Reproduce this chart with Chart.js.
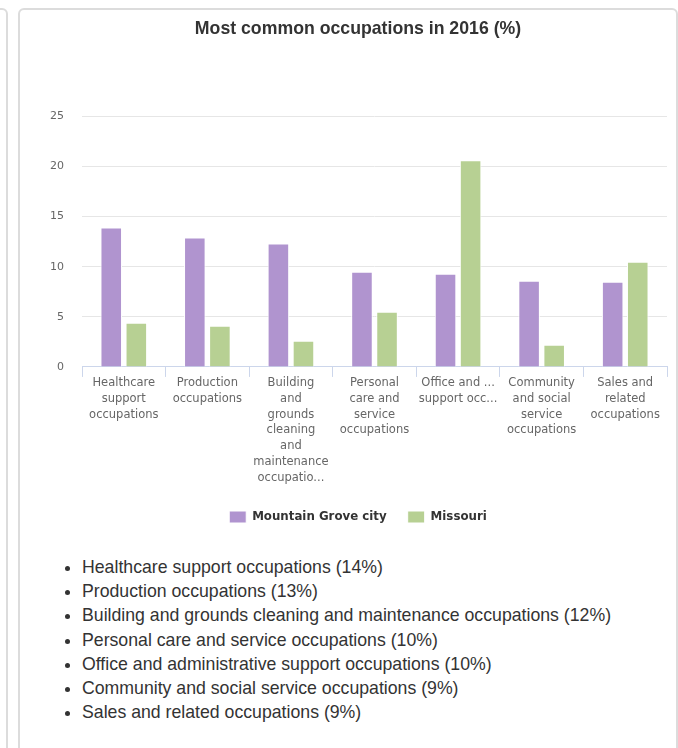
<!DOCTYPE html>
<html>
<head>
<meta charset="utf-8">
<script src="https://cdn.jsdelivr.net/npm/chart.js@4.4.1/dist/chart.umd.min.js"></script>
<style>
  html, body { margin: 0; padding: 0; background: #fff; overflow: hidden; width: 678px; height: 748px; }
  .side { position: absolute; left: -12px; top: 8px; width: 16px; height: 800px; border: 2px solid #dcdcdc; border-radius: 6px; }
  .panel { position: absolute; left: 18px; top: 8px; width: 656px; height: 800px; border: 2px solid #dcdcdc; border-radius: 6px; }
  #wrap { position: absolute; left: 20px; top: 10px; width: 658px; height: 523px; }
  ul.lst { position: absolute; left: 82px; top: 555px; margin: 0; padding: 0; list-style: disc; font-family: "Liberation Sans", Arial, sans-serif; font-size: 17.7px; line-height: 24.2px; color: #333; }
  ul.lst li { margin: 0; padding: 0; }
</style>
</head>
<body>
<div class="side"></div>
<div class="panel"></div>
<div id="wrap"><canvas id="c"></canvas></div>
<ul class="lst" id="lst"></ul>
<script>
const categories = [
  "Healthcare support occupations",
  "Production occupations",
  "Building and grounds cleaning and maintenance occupations",
  "Personal care and service occupations",
  "Office and administrative support occupations",
  "Community and social service occupations",
  "Sales and related occupations"
];
const tickLabels = [
  ["Healthcare", "support", "occupations"],
  ["Production", "occupations"],
  ["Building", "and", "grounds", "cleaning", "and", "maintenance", "occupatio..."],
  ["Personal", "care and", "service", "occupations"],
  ["Office and ...", "support occ..."],
  ["Community", "and social", "service", "occupations"],
  ["Sales and", "related", "occupations"]
];
const mountainGrove = [13.9, 12.9, 12.3, 9.5, 9.3, 8.6, 8.5];
const missouri = [4.4, 4.1, 2.6, 5.5, 20.6, 2.2, 10.5];
const listPercents = [14, 13, 12, 10, 10, 9, 9];
const yTicks = [0, 5, 10, 15, 20, 25];

const lst = document.getElementById('lst');
categories.forEach((c, i) => {
  const li = document.createElement('li');
  li.textContent = c + ' (' + listPercents[i] + '%)';
  lst.appendChild(li);
});

new Chart(document.getElementById('c'), {
  type: 'bar',
  data: {
    labels: tickLabels,
    datasets: [
      { label: 'Mountain Grove city', data: mountainGrove, backgroundColor: '#b094cf', borderColor: '#ffffff', borderWidth: 1, barPercentage: 0.86, categoryPercentage: 0.6 },
      { label: 'Missouri', data: missouri, backgroundColor: '#b7d093', borderColor: '#ffffff', borderWidth: 1, barPercentage: 0.86, categoryPercentage: 0.6 }
    ]
  },
  options: {
    responsive: true,
    maintainAspectRatio: false,
    animation: false,
    layout: { padding: { left: 29, right: 11, top: 0, bottom: 0 } },
    plugins: {
      title: {
        display: true,
        text: 'Most common occupations in 2016 (%)',
        color: '#333333',
        font: { family: '"Liberation Sans", Arial, sans-serif', size: 17.7, weight: 'bold' },
        padding: { top: 8, bottom: 77 }
      },
      legend: {
        position: 'bottom',
        labels: {
          boxWidth: 17,
          boxHeight: 12,
          padding: 21,
          color: '#333333',
          font: { family: '"DejaVu Sans", sans-serif', size: 11.8, weight: 'bold' }
        }
      },
      tooltip: { enabled: false }
    },
    scales: {
      x: {
        afterFit: (s) => { s.height += 6; },
        grid: { display: true, drawOnChartArea: false, drawTicks: true, tickLength: 10, color: '#ccd6eb', offset: true },
        border: { display: true, color: '#ccd6eb', width: 1 },
        ticks: {
          color: '#666666',
          font: { family: '"DejaVu Sans", sans-serif', size: 11.5, lineHeight: 1.38 },
          maxRotation: 0, minRotation: 0, autoSkip: false, padding: -2
        }
      },
      y: {
        min: 0, max: 25,
        afterBuildTicks: (s) => { s.ticks = yTicks.map(v => ({ value: v })); },
        afterFit: (s) => { s.width = 33; },
        grid: { color: '#e6e6e6', drawTicks: false },
        border: { display: false },
        ticks: {
          color: '#666666',
          font: { family: '"DejaVu Sans", sans-serif', size: 11 },
          padding: 18
        }
      }
    }
  }
});
</script>
</body>
</html>
